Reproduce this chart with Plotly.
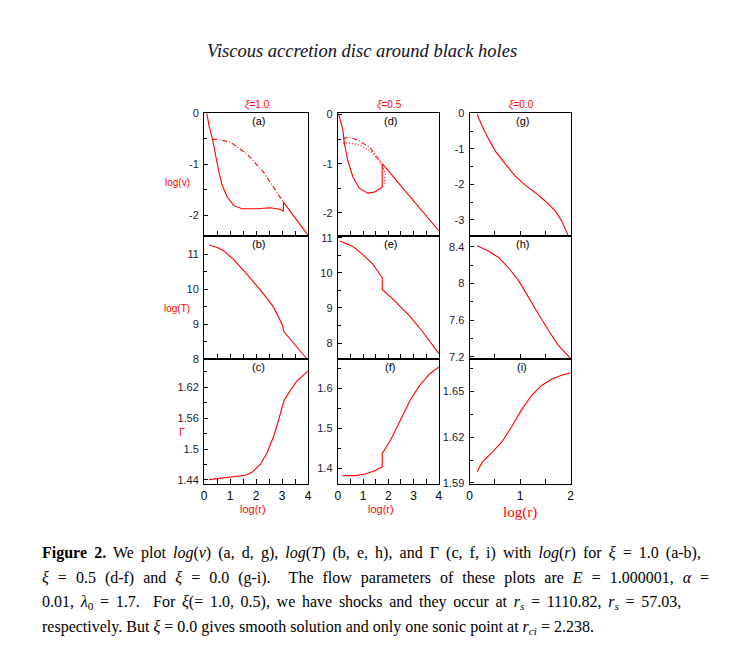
import plotly.graph_objects as go

W, H = 751, 665
OFF = 8  # page body margin of the exported html
FW, FH = W - 2 * OFF, H - 2 * OFF

# ---- data (x = log(r)) ----
# xi = 1.0
a_solid_x = [0.10, 0.19, 0.32, 0.44, 0.57, 0.70, 0.89, 1.14, 1.46, 2.03, 2.54, 2.92, 3.05, 3.05, 4.00]
a_solid_y = [0.00, -0.25, -0.51, -0.83, -1.16, -1.42, -1.64, -1.81, -1.87, -1.87, -1.85, -1.88, -1.92, -1.74, -2.39]
a_dd_x = [0.32, 0.51, 1.02, 1.65, 2.29, 2.79, 3.05]
a_dd_y = [-0.51, -0.51, -0.57, -0.80, -1.16, -1.55, -1.74]
b_x = [0.19, 0.51, 0.76, 1.14, 1.65, 2.29, 2.67, 2.92, 3.01, 3.07, 3.43, 3.97]
b_y = [11.26, 11.19, 11.09, 10.84, 10.42, 9.86, 9.49, 9.12, 8.98, 8.79, 8.47, 8.00]
c_x = [0.19, 0.63, 1.14, 1.59, 1.84, 2.16, 2.41, 2.67, 2.86, 2.98, 3.07, 3.30, 3.56, 4.00]
c_y = [1.4406, 1.443, 1.4455, 1.449, 1.455, 1.470, 1.492, 1.524, 1.556, 1.581, 1.594, 1.613, 1.632, 1.652]

# xi = 0.5
d_solid_x = [0.04, 0.20, 0.26, 0.39, 0.59, 0.85, 1.18, 1.44, 1.70, 1.756, 1.756, 4.00]
d_solid_y = [0.00, -0.32, -0.59, -0.93, -1.26, -1.50, -1.60, -1.58, -1.50, -1.47, -1.00, -2.37]
d_dd_x = [0.20, 0.46, 0.79, 1.25, 1.64, 1.756]
d_dd_y = [-0.49, -0.46, -0.52, -0.66, -0.93, -1.00]
d_dot_x = [0.20, 0.46, 0.85, 1.31, 1.70, 1.88, 1.84, 1.756]
d_dot_y = [-0.58, -0.58, -0.62, -0.75, -0.98, -1.19, -1.40, -1.47]
e_x = [0.08, 0.60, 0.99, 1.39, 1.71, 1.756, 1.756, 2.17, 2.82, 3.35, 4.00]
e_y = [10.91, 10.75, 10.52, 10.24, 9.91, 9.86, 9.53, 9.26, 8.79, 8.33, 7.70]
f_x = [0.19, 0.70, 1.08, 1.46, 1.756, 1.756, 2.10, 2.48, 2.86, 3.24, 3.62, 4.00]
f_y = [1.382, 1.382, 1.386, 1.394, 1.404, 1.437, 1.472, 1.521, 1.570, 1.607, 1.635, 1.653]

# xi = 0.0
g_x = [0.15, 0.25, 0.38, 0.51, 0.71, 0.90, 1.10, 1.29, 1.49, 1.69, 1.82, 1.95, 2.00]
g_y = [-0.03, -0.36, -0.73, -1.06, -1.43, -1.76, -2.02, -2.22, -2.46, -2.74, -3.02, -3.44, -3.60]
h_x = [0.15, 0.38, 0.58, 0.77, 0.97, 1.16, 1.36, 1.56, 1.75, 1.95, 2.00]
h_y = [8.41, 8.35, 8.28, 8.17, 8.03, 7.85, 7.67, 7.49, 7.33, 7.21, 7.18]
i_x = [0.15, 0.25, 0.44, 0.64, 0.84, 1.03, 1.23, 1.42, 1.62, 1.82, 1.95, 2.00]
i_y = [1.5973, 1.6036, 1.6099, 1.6169, 1.6273, 1.6381, 1.6475, 1.6538, 1.658, 1.6607, 1.6618, 1.6622]

# tick labels
yt_a = [0, -1, -2]
yt_b = [8, 9, 10, 11]
yt_c = [1.44, 1.5, 1.56, 1.62]
yt_d = [0, -1, -2]
yt_e = [8, 9, 10, 11]
yt_f = [1.4, 1.5, 1.6]
yt_g = [0, -1, -2, -3]
yt_h = [7.2, 7.6, 8, 8.4]
yt_i = [1.59, 1.62, 1.65]

col_titles = ["<i>ξ</i>=1.0", "<i>ξ</i>=0.5", "<i>ξ</i>=0.0"]
panel_names = ["(a)", "(b)", "(c)", "(d)", "(e)", "(f)", "(g)", "(h)", "(i)"]

RED = "#ff0000"


def xp(p):
    return (p - OFF) / FW


def yp(p):
    return 1 - (p - OFF) / FH


# pixel frames of columns / rows (page pixels)
cols = [(203, 308), (338, 440), (471, 573)]
rows = [(109, 234), (234, 360), (360, 487)]

# panel: (col, row, x range, y range, ticks, minor step)
panels = [
    (0, 0, [0, 4], [-2.40, 0], yt_a, 0.5),
    (0, 1, [0, 4], [8.0, 11.52], yt_b, 0.5),
    (0, 2, [0, 4], [1.4318, 1.674], yt_c, 0.03),
    (1, 0, [0, 4], [-2.47, 0.03], yt_d, 0.5),
    (1, 1, [0, 4], [7.533, 11.056], yt_e, 0.5),
    (1, 2, [0, 4], [1.3608, 1.6717], yt_f, 0.05),
    (2, 0, [0, 2], [-3.45, 0.01], yt_g, 0.5),
    (2, 1, [0, 2], [7.171, 8.518], yt_h, 0.2),
    (2, 2, [0, 2], [1.5892, 1.671], yt_i, 0.015),
]

fig = go.Figure()

traces = [
    (1, a_solid_x, a_solid_y, "solid"),
    (1, a_dd_x, a_dd_y, "5px,2px,1px,2px"),
    (2, b_x, b_y, "solid"),
    (3, c_x, c_y, "solid"),
    (4, d_solid_x, d_solid_y, "solid"),
    (4, d_dd_x, d_dd_y, "5px,2px,1px,2px"),
    (4, d_dot_x, d_dot_y, "1px,2px"),
    (5, e_x, e_y, "solid"),
    (6, f_x, f_y, "solid"),
    (7, g_x, g_y, "solid"),
    (8, h_x, h_y, "solid"),
    (9, i_x, i_y, "solid"),
]
for n, x, y, dash in traces:
    sfx = "" if n == 1 else str(n)
    fig.add_trace(go.Scatter(
        x=x, y=y, mode="lines", line=dict(color=RED, width=1.1, dash=dash),
        xaxis="x" + sfx, yaxis="y" + sfx, showlegend=False, hoverinfo="skip",
    ))

layout = {}
tick_font = dict(family="Liberation Sans, Arial", size=11, color="#1a1a33")
for n, (c, r, xr, yr, yt, ystep) in enumerate(panels, start=1):
    sfx = "" if n == 1 else str(n)
    bottom = r == 2
    layout["xaxis" + sfx] = dict(
        domain=[xp(cols[c][0]), xp(cols[c][1])], range=xr, anchor="y" + sfx,
        showline=True, linecolor="black", linewidth=1.2, mirror=True,
        showgrid=False, zeroline=False,
        ticks="inside", ticklen=5, tickcolor="black", dtick=1, tick0=0,
        minor=dict(ticks="inside", ticklen=5, dtick=0.5, tickcolor="black"),
        showticklabels=bottom, tickfont=dict(family="Liberation Sans, Arial", size=12, color="black"),
    )
    layout["yaxis" + sfx] = dict(
        domain=[yp(rows[r][1]), yp(rows[r][0])], range=yr, anchor="x" + sfx,
        showline=True, linecolor="black", linewidth=1.2, mirror=True,
        showgrid=False, zeroline=False,
        ticks="inside", ticklen=4, tickcolor="black",
        tickvals=yt, ticktext=[f"{v:g}" for v in yt],
        minor=dict(ticks="inside", ticklen=3, tick0=yt[0], dtick=ystep, tickcolor="black"),
        tickfont=tick_font, ticklabelstandoff=2,
    )

ann = []
# figure title
ann.append(dict(x=xp(362), y=yp(46), text="<i>Viscous accretion disc around black holes</i>",
                font=dict(family="Liberation Serif", size=18.5, color="#111122")))
# column titles
for (x0, x1), t in zip(cols, col_titles):
    ann.append(dict(x=xp((x0 + x1) / 2 + 1), y=yp(101), text=t,
                    font=dict(family="Liberation Sans", size=10, color=RED)))
# panel labels
for n, (c, r, *_rest) in enumerate(panels):
    x0, x1 = cols[c]
    ann.append(dict(x=xp((x0 + x1) / 2 + 2), y=yp(rows[r][0] + 8), text=panel_names[n],
                    font=dict(family="Liberation Sans", size=11, color="black")))
# y titles
ann.append(dict(x=xp(176), y=yp(180), text="log(v)", font=dict(family="Liberation Sans", size=10, color=RED)))
ann.append(dict(x=xp(176), y=yp(308), text="log(T)", font=dict(family="Liberation Sans", size=10, color=RED)))
ann.append(dict(x=xp(181), y=yp(434), text="Γ", font=dict(family="Liberation Sans", size=11, color=RED)))
# x titles
ann.append(dict(x=xp(252), y=yp(512), text="log(r)", font=dict(family="Liberation Sans", size=11, color=RED)))
ann.append(dict(x=xp(382), y=yp(512), text="log(r)", font=dict(family="Liberation Sans", size=11, color=RED)))
ann.append(dict(x=xp(522), y=yp(516), text="log(r)", font=dict(family="Liberation Serif", size=15, color=RED)))

# caption (justified lines through word spacing)
cap = [
    "<b>Figure 2.</b> We plot <i>log</i>(<i>v</i>) (a, d, g), <i>log</i>(<i>T</i>) (b, e, h), and Γ (c, f, i) with <i>log</i>(<i>r</i>) for <i>ξ</i> = 1.0 (a-b),",
    "<i>ξ</i> = 0.5 (d-f) and <i>ξ</i> = 0.0 (g-i).  The flow parameters of these plots are <i>E</i> = 1.000001, <i>α</i> =",
    "0.01, <i>λ</i><sub>0</sub> = 1.7.  For <i>ξ</i>(= 1.0, 0.5), we have shocks and they occur at <i>r<sub>s</sub></i> = 1110.82, <i>r<sub>s</sub></i> = 57.03,",
    "respectively. But <i>ξ</i> = 0.0 gives smooth solution and only one sonic point at <i>r<sub>ci</sub></i> = 2.238.",
]
cap_spacing = [3.1, 5.0, 2.7, 0]
for k, t in enumerate(cap):
    ann.append(dict(x=xp(37), y=yp(557 + 25.5 * k),
                    text=f'<span style="word-spacing:{cap_spacing[k]}px">{t}</span>', xanchor="left",
                    font=dict(family="Liberation Serif", size=16, color="black")))

for a in ann:
    a.update(xref="paper", yref="paper", showarrow=False)
    a.setdefault("xanchor", "center")
    a.setdefault("yanchor", "middle")

fig.update_layout(
    width=FW, height=FH, margin=dict(l=0, r=0, t=0, b=0),
    paper_bgcolor="white", plot_bgcolor="white",
    annotations=ann, **layout,
)

fig.write_html("out.html")
